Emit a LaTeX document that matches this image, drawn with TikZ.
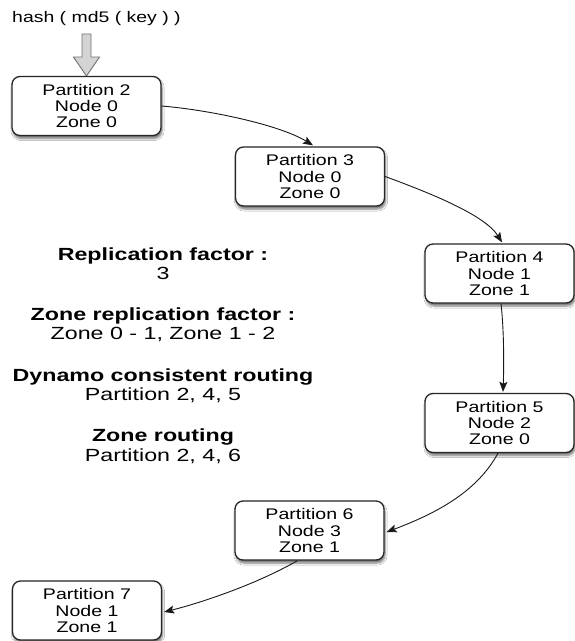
\documentclass[tikz,border=0pt]{standalone}
\usepackage{fontspec}
\setmainfont{Liberation Sans}
\newfontfamily\boxfont[FakeStretch=1.27]{Liberation Sans}
\newfontfamily\notefont[FakeStretch=1.32]{Liberation Sans}
\usetikzlibrary{arrows.meta,shadows.blur}

\tikzset{
  partbox/.style={draw=black!85, line width=1.3pt, rounded corners=8pt, fill=white,
    minimum width=149pt, minimum height=59pt, inner sep=0pt, align=center,
    font=\boxfont\fontsize{15.4}{16.3}\selectfont,
    blur shadow={shadow xshift=1pt, shadow yshift=-3pt, shadow opacity=55, shadow blur steps=6}},
  flow/.style={draw=black!90, line width=0.9pt, -{Stealth[length=10pt,width=8pt,inset=2pt]}},
  hollowarrow/.style={draw=black!55, fill=black!17, line width=0.9pt, line join=miter},
  note/.style={anchor=base, align=center, font=\notefont\fontsize{17.6}{19.5}\selectfont},
  keylabel/.style={anchor=base west, inner sep=0pt, font=\boxfont\fontsize{15.3}{17}\selectfont}
}

\begin{document}
\begin{tikzpicture}[x=1pt, y=-1pt]
\useasboundingbox[fill=white] (0,0) rectangle (574,641);

% key hashing label and the hollow arrow into the first partition
\node[keylabel] (hashlabel) at (12,22.5) {hash ( md5 ( key ) )};
\draw[hollowarrow] (82,34) -- (91,34) -- (91,57) -- (99.5,57) -- (86.5,76)
  -- (73.5,57) -- (82,57) -- cycle;

% partitions on the ring
\node[partbox] (p2) at (86.5,106)  {Partition 2\\Node 0\\Zone 0};
\node[partbox] (p3) at (310,176.5) {Partition 3\\Node 0\\Zone 0};
\node[partbox] (p4) at (499.5,273.5) {Partition 4\\Node 1\\Zone 1};
\node[partbox] (p5) at (499.5,423) {Partition 5\\Node 2\\Zone 0};
\node[partbox] (p6) at (309.5,530.5) {Partition 6\\Node 3\\Zone 1};
\node[partbox] (p7) at (87,610.5) {Partition 7\\Node 1\\Zone 1};

% walk along the ring
\draw[flow] (p2.east) .. controls (210,110) and (280,125) .. ([xshift=3pt,yshift=1pt]p3.north);
\draw[flow] (p3.east) .. controls (430,193) and (485,215) .. ([xshift=2.5pt,yshift=1pt]p4.north);
\draw[flow] ([xshift=1.5pt]p4.south) .. controls (504,330) and (504,365) .. ([xshift=3.5pt,yshift=1pt]p5.north);
\draw[flow] ([xshift=-1.5pt]p5.south) .. controls (478,490) and (440,512) .. ([xshift=2pt,yshift=-1.5pt]p6.east);
\draw[flow] ([xshift=-12pt]p6.south) .. controls (255,585) and (200,603) .. ([xshift=2pt,yshift=-1.5pt]p7.east);

% replication settings (each node sits on the baseline of its second line)
\node[note] (rf)  at (163,279.5) {\textbf{Replication factor :}\\3};
\node[note] (zrf) at (163,339.5) {\textbf{Zone replication factor :}\\Zone 0 - 1, Zone 1 - 2};
\node[note] (dcr) at (163,400.5) {\textbf{Dynamo consistent routing}\\Partition 2, 4, 5};
\node[note] (zr)  at (163,461)   {\textbf{Zone routing}\\Partition 2, 4, 6};
\end{tikzpicture}
\end{document}
